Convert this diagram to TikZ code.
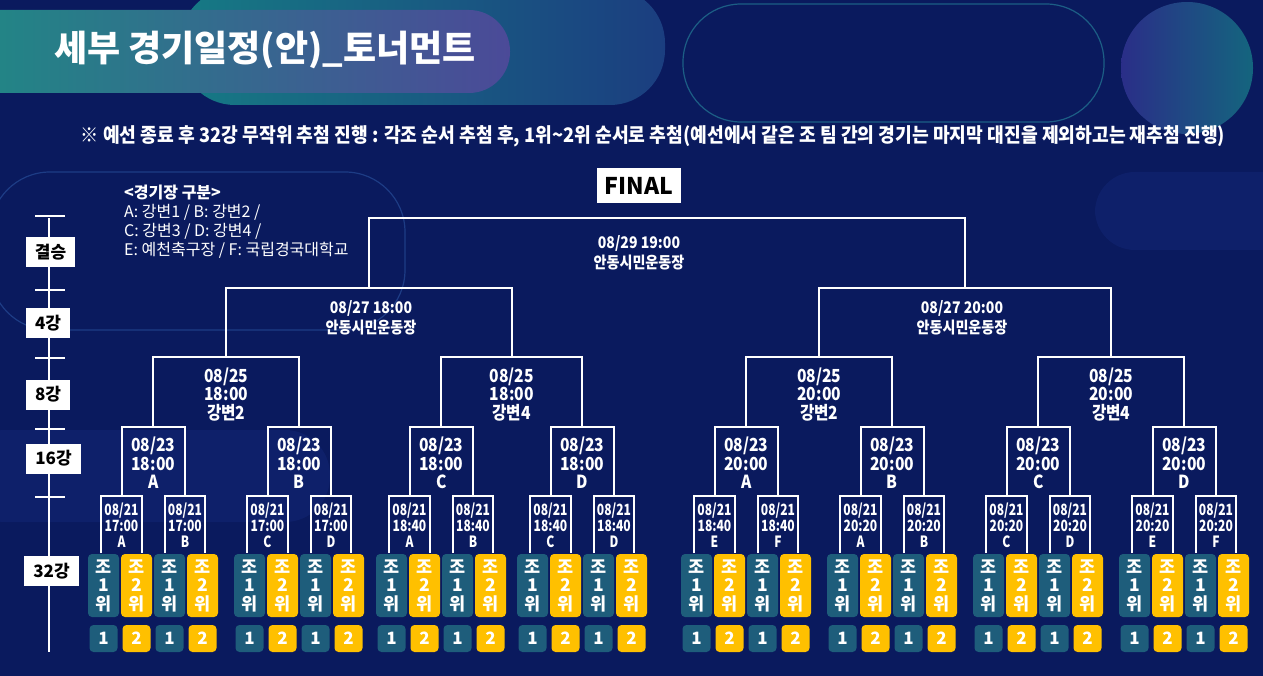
\documentclass[tikz,border=0pt]{standalone}
\usepackage{fontspec}
\setmainfont{Noto Sans CJK KR}
\newfontfamily\krA[FakeStretch=0.78]{Noto Sans CJK KR}
\newfontfamily\krB[FakeStretch=0.87]{Noto Sans CJK KR}
\newfontfamily\krC[FakeStretch=0.88]{Noto Sans CJK KR}
\newfontfamily\krS[FakeStretch=0.91]{Noto Sans CJK KR}
\usetikzlibrary{calc}
\definecolor{bg}{HTML}{0A1A5E}
\definecolor{bgl}{HTML}{13287A}
\definecolor{tealbox}{HTML}{1E5D7B}
\definecolor{goldbox}{HTML}{FFC000}
\definecolor{banL}{HTML}{1E8B84}
\definecolor{banR}{HTML}{4B4A98}
\definecolor{decoA}{HTML}{167A84}
\definecolor{decoB}{HTML}{1B3E80}
\definecolor{circA}{HTML}{2A2E88}
\definecolor{circB}{HTML}{14657E}
\definecolor{ring}{HTML}{1C5E85}
\definecolor{ringb}{HTML}{1D3C85}
\begin{document}
\begin{tikzpicture}[x=1pt,y=-1pt,
  bl/.style={draw=white, line width=2pt},
  l32/.style={text=white, font=\krA\bfseries\fontsize{15.5}{16}\selectfont, align=center, inner sep=0pt},
  l16/.style={text=white, font=\krB\bfseries\fontsize{18}{18.5}\selectfont, align=center, inner sep=0pt},
  l4/.style={text=white, font=\krC\bfseries\fontsize{16}{20}\selectfont, align=center, inner sep=0pt},
  tbox/.style={fill=tealbox, rounded corners=4pt, minimum width=31pt, minimum height=63pt, inner sep=0pt, text=white, align=center, font=\bfseries\fontsize{17.5}{18.5}\selectfont},
  ybox/.style={tbox, fill=goldbox},
  tsm/.style={fill=tealbox, rounded corners=4pt, minimum width=28pt, minimum height=27pt, inner sep=0pt, text=white, font=\bfseries\fontsize{17}{17}\selectfont},
  ysm/.style={tsm, fill=goldbox},
  lev/.style={fill=white, text=black, inner sep=0pt, minimum height=30pt, font=\bfseries\fontsize{17}{17}\selectfont},
  legend/.style={text=white, align=left, inner sep=0pt, font=\fontsize{16}{19}\selectfont},
]
\useasboundingbox (0,0) rectangle (1263,676);
\fill[bg] (0,0) rectangle (1263,676);
% background decorations
\fill[bgl, opacity=0.45, rounded corners=40pt] (1095,172) rectangle (1300,250);
\fill[bgl, opacity=0.45, rounded corners=45pt] (-40,430) rectangle (330,522);
\draw[ringb, line width=1.2pt, rounded corners=60pt] (-10,172) rectangle (405,330);
\draw[ring, line width=1.2pt, rounded corners=58pt] (683,4) rectangle (1104,122);
\shade[left color=circA, right color=circB] (1187,68) circle (66);
\shade[left color=decoA, right color=decoB, rounded corners=55pt] (180,-12) rectangle (665,105);
% title banner
\shade[left color=banL, right color=banR, rounded corners=41pt] (-60,10) rectangle (510,93);
\node[text=white, inner sep=0pt, font=\bfseries\fontsize{36}{36}\selectfont] (title) at (265,50) {세부 경기일정(안)\_토너먼트};
\node[text=white, inner sep=0pt, font=\krS\bfseries\fontsize{20}{20}\selectfont] (sub) at (653,136) {※ 예선 종료 후 32강 무작위 추첨 진행 : 각조 순서 추첨 후, 1위\textasciitilde2위 순서로 추첨(예선에서 같은 조 팀 간의 경기는 마지막 대진을 제외하고는 재추첨 진행)};
% legend
\node[legend, anchor=west] (leg) at (124,221.5) {{\bfseries <경기장 구분>}\\A: 강변1 / B: 강변2 /\\C: 강변3 / D: 강변4 /\\E: 예천축구장 / F: 국립경국대학교};
% level scale
\draw[bl] (49,218) -- (49,652);
\foreach \ty in {216,290,358,429,497} \draw[bl] (35,\ty) -- (65,\ty);
\node[lev, minimum width=49pt] (kF) at (50.5,252) {결승};
\node[lev, minimum width=44pt] (k4) at (48,323) {4강};
\node[lev, minimum width=44pt] (k8) at (48,394.5) {8강};
\node[lev, minimum width=55pt] (k16) at (53.5,458.5) {16강};
\node[lev, minimum width=55pt] (k32) at (51.5,571) {32강};
% groups
\foreach \i/\s/\tm/\va/\vb/\tt/\vx in {1/88/17:00/A/B/18:00/A, 2/234/17:00/C/D/18:00/B, 3/376/18:40/A/B/18:00/C, 4/517/18:40/C/D/18:00/D, 5/681/18:40/E/F/20:00/A, 6/827/20:20/A/B/20:00/B, 7/973/20:20/C/D/20:00/C, 8/1119/20:20/E/F/20:00/D}{
  \node[tbox] (B\i-1) at (\s+15.5,585.5) {조\\1\\위};
  \node[ybox] (B\i-2) at (\s+48.5,585.5) {조\\2\\위};
  \node[tbox] (B\i-3) at (\s+81.5,585.5) {조\\1\\위};
  \node[ybox] (B\i-4) at (\s+114.5,585.5) {조\\2\\위};
  \node[tsm] (S\i-1) at (\s+15.5,638.5) {1};
  \node[ysm] (S\i-2) at (\s+48.5,638.5) {2};
  \node[tsm] (S\i-3) at (\s+81.5,638.5) {1};
  \node[ysm] (S\i-4) at (\s+114.5,638.5) {2};
  \coordinate (L\i-1) at (\s+13,553);
  \coordinate (L\i-2) at (\s+54,553);
  \coordinate (L\i-3) at (\s+77,553);
  \coordinate (L\i-4) at (\s+117,553);
  \coordinate (P\i-1) at (\s+33.5,496);
  \coordinate (P\i-2) at (\s+97,496);
  \coordinate (Q\i) at (\s+65.25,427);
  \draw[bl] (L\i-1) |- (P\i-1) -| (L\i-2);
  \draw[bl] (L\i-3) |- (P\i-2) -| (L\i-4);
  \draw[bl] (P\i-1) |- (Q\i) -| (P\i-2);
  \node[l32] (T\i-1) at (\s+33.5,525) {08/21\\\tm\\\va};
  \node[l32] (T\i-2) at (\s+97,525) {08/21\\\tm\\\vb};
  \node[l16] (U\i) at (\s+65.25,463) {08/23\\\tt\\\vx};
}
% quarter finals
\coordinate (R1) at (226.25,357);
\coordinate (R2) at (511.75,357);
\coordinate (R3) at (819.25,357);
\coordinate (R4) at (1111.25,357);
\draw[bl] (Q1) |- (R1) -| (Q2);
\draw[bl] (Q3) |- (R2) -| (Q4);
\draw[bl] (Q5) |- (R3) -| (Q6);
\draw[bl] (Q7) |- (R4) -| (Q8);
\node[l16] (V1) at (226.25,394.5) {08/25\\18:00\\강변2};
\node[l16] (V2) at (511.75,394.5) {08/25\\18:00\\강변4};
\node[l16] (V3) at (819.25,394.5) {08/25\\20:00\\강변2};
\node[l16] (V4) at (1111.25,394.5) {08/25\\20:00\\강변4};
% semi finals
\coordinate (F1) at (369,288);
\coordinate (F2) at (965.25,288);
\draw[bl] (R1) |- (F1) -| (R2);
\draw[bl] (R3) |- (F2) -| (R4);
\node[l4] (W1) at (371,318) {08/27 18:00\\안동시민운동장};
\node[l4] (W2) at (962,318) {08/27 20:00\\안동시민운동장};
% final
\coordinate (FF) at (667,218);
\draw[bl] (F1) |- (FF) -| (F2);
\node[l4] (FT) at (639,252.5) {08/29 19:00\\안동시민운동장};
\node[fill=white, text=black, inner sep=0pt, minimum width=84pt, minimum height=35pt, font=\bfseries\fontsize{23}{23}\selectfont] (fin) at (639,185.5) {FINAL};
\end{tikzpicture}
\end{document}
